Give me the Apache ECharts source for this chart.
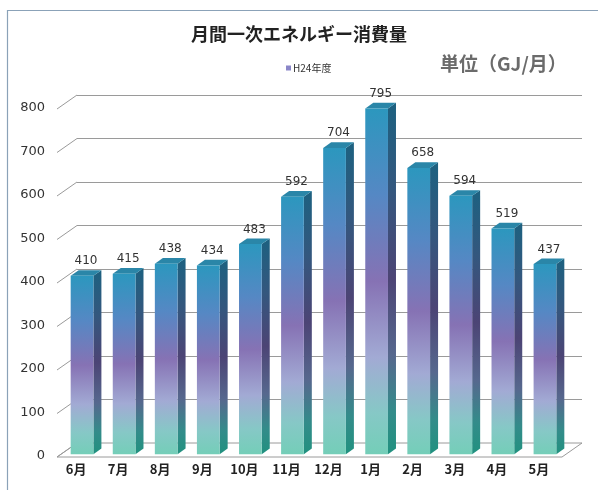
<!DOCTYPE html>
<html>
<head>
<meta charset="utf-8">
<script src="https://cdn.jsdelivr.net/npm/echarts@6/dist/echarts.min.js"></script>
<style>
  html, body { margin: 0; padding: 0; background: #ffffff; }
  #chart { width: 598px; height: 490px; }
</style>
</head>
<body>
<div id="chart"></div>
<script>
// Monthly primary energy consumption, fiscal H24 (GJ per month)
const months = ['6月', '7月', '8月', '9月', '10月', '11月', '12月', '1月', '2月', '3月', '4月', '5月'];
const consumption = [410, 415, 438, 434, 483, 592, 704, 795, 658, 594, 519, 437];
const yTicks = [0, 100, 200, 300, 400, 500, 600, 700, 800];
const seriesName = 'H24年度';
const titleText = '月間一次エネルギー消費量';
const unitText = '単位（GJ/月）';

// Depth vector from the back wall to the front edge of the floor (pixels)
const DEPTH = [-20, 14];
const BAR_FRONT = 0.8;   // bar front face as fraction of the depth
const BAR_BACK = 0.4;    // bar back face as fraction of the depth
const BAR_WIDTH = 0.54;  // fraction of a category band

const chart = echarts.init(document.getElementById('chart'), null, { renderer: 'canvas' });

function faceGradient(stops) {
  return new echarts.graphic.LinearGradient(0, 0, 0, 1,
    stops.map(s => ({ offset: s[0], color: s[1] })));
}

function renderBar(params, api) {
  const idx = api.value(0);
  const val = api.value(1);
  const top = api.coord([idx, val]);
  const base = api.coord([idx, 0]);
  const band = api.size([1, 0])[0];
  const w = band * BAR_WIDTH;
  const fx = top[0] + DEPTH[0] * BAR_FRONT - w / 2;
  const fdy = DEPTH[1] * BAR_FRONT;
  const bx = top[0] + DEPTH[0] * BAR_BACK - w / 2;
  const bdy = DEPTH[1] * BAR_BACK;
  const fTop = top[1] + fdy, fBot = base[1] + fdy;
  const bTop = top[1] + bdy, bBot = base[1] + bdy;

  const frontFill = faceGradient([
    [0, '#2c97be'], [0.25, '#5588c4'], [0.5, '#8672b4'],
    [0.72, '#a2aad4'], [0.88, '#86c8c6'], [1, '#74ceb8']
  ]);
  const sideFill = faceGradient([
    [0, '#1d6180'], [0.25, '#34577e'], [0.5, '#4c4475'],
    [0.72, '#56688e'], [0.88, '#338c8a'], [1, '#21917f']
  ]);

  return {
    type: 'group',
    children: [
      {
        type: 'polygon',
        shape: { points: [[fx + w, fTop], [bx + w, bTop], [bx + w, bBot], [fx + w, fBot]] },
        style: { fill: sideFill }
      },
      {
        type: 'polygon',
        shape: { points: [[fx, fTop], [fx + w, fTop], [bx + w, bTop], [bx, bTop]] },
        style: { fill: '#2a86a8' }
      },
      {
        type: 'rect',
        shape: { x: fx, y: fTop, width: w, height: fBot - fTop },
        style: { fill: frontFill }
      },
      {
        type: 'text',
        x: (fx + bx) / 2 + w / 2,
        y: bTop - 3,
        style: {
          text: String(val),
          align: 'center',
          verticalAlign: 'bottom',
          fill: '#333333',
          font: '12px "DejaVu Sans", sans-serif'
        }
      }
    ]
  };
}

// Floor and the slanted tick lines joining the wall to the front edge
function renderWall(params, api) {
  const v = api.value(0);
  const cs = params.coordSys;
  const y = api.coord([0, v])[1];
  const children = [];
  if (v === 0) {
    const x0 = cs.x, x1 = cs.x + cs.width;
    children.push({
      type: 'polygon',
      shape: { points: [[x0, y], [x1, y], [x1 + DEPTH[0], y + DEPTH[1]], [x0 + DEPTH[0], y + DEPTH[1]]] },
      style: { fill: '#ffffff', stroke: '#9a9a9a', lineWidth: 1 }
    });
  }
  children.push({
    type: 'line',
    shape: { x1: cs.x, y1: y, x2: cs.x + DEPTH[0], y2: y + DEPTH[1] },
    style: { stroke: '#9a9a9a', lineWidth: 1 }
  });
  return { type: 'group', children: children };
}

chart.setOption({
  backgroundColor: '#ffffff',
  animation: false,
  title: {
    text: titleText,
    left: 'center',
    top: 20,
    textStyle: {
      fontFamily: '"Noto Sans CJK JP", sans-serif',
      fontSize: 18,
      fontWeight: 'bold',
      color: '#222222'
    }
  },
  legend: {
    data: [seriesName],
    left: 281,
    top: 58,
    itemWidth: 5,
    itemHeight: 5,
    itemGap: 2,
    icon: 'rect',
    textStyle: {
      fontFamily: '"Noto Sans CJK JP", sans-serif',
      fontSize: 10,
      color: '#333333',
      padding: [0, 0, 0, -3]
    }
  },
  graphic: [
    {
      type: 'rect',
      left: 5, top: 8,
      shape: { width: 620, height: 520 },
      style: { fill: 'none', stroke: '#8ba2b8', lineWidth: 1.2 },
      silent: true
    },
    {
      type: 'text',
      left: 440, top: 54,
      style: {
        text: unitText,
        fill: '#6b6b6b',
        font: 'bold 19px "Noto Sans CJK JP", sans-serif'
      }
    }
  ],
  grid: { left: 77, right: 16, top: 95, bottom: 47 },
  xAxis: {
    type: 'category',
    data: months,
    axisLine: { show: false },
    axisTick: { show: false },
    axisLabel: {
      margin: 20,
      padding: [0, 44, 0, 0],
      fontFamily: '"Noto Sans CJK JP", sans-serif',
      fontSize: 13,
      fontWeight: 'bold',
      color: '#222222'
    }
  },
  yAxis: {
    type: 'value',
    min: 0,
    max: 800,
    interval: 100,
    axisLine: { show: false },
    axisTick: { show: false },
    splitLine: { lineStyle: { color: '#9a9a9a', width: 1 } },
    axisLabel: {
      margin: 32,
      verticalAlign: 'top',
      lineHeight: 26,
      fontFamily: '"DejaVu Sans", sans-serif',
      fontSize: 13,
      color: '#333333',
      formatter: v => (yTicks.indexOf(v) >= 0 ? String(v) : '')
    }
  },
  series: [
    {
      type: 'custom',
      name: 'wall',
      silent: true,
      renderItem: renderWall,
      data: yTicks.map(v => [v]),
      encode: { y: 0 },
      z: 1
    },
    {
      type: 'custom',
      name: seriesName,
      renderItem: renderBar,
      data: consumption.map((v, i) => [i, v]),
      encode: { x: 0, y: 1 },
      itemStyle: { color: '#8a86c8' },
      z: 3
    }
  ]
});
</script>
</body>
</html>
